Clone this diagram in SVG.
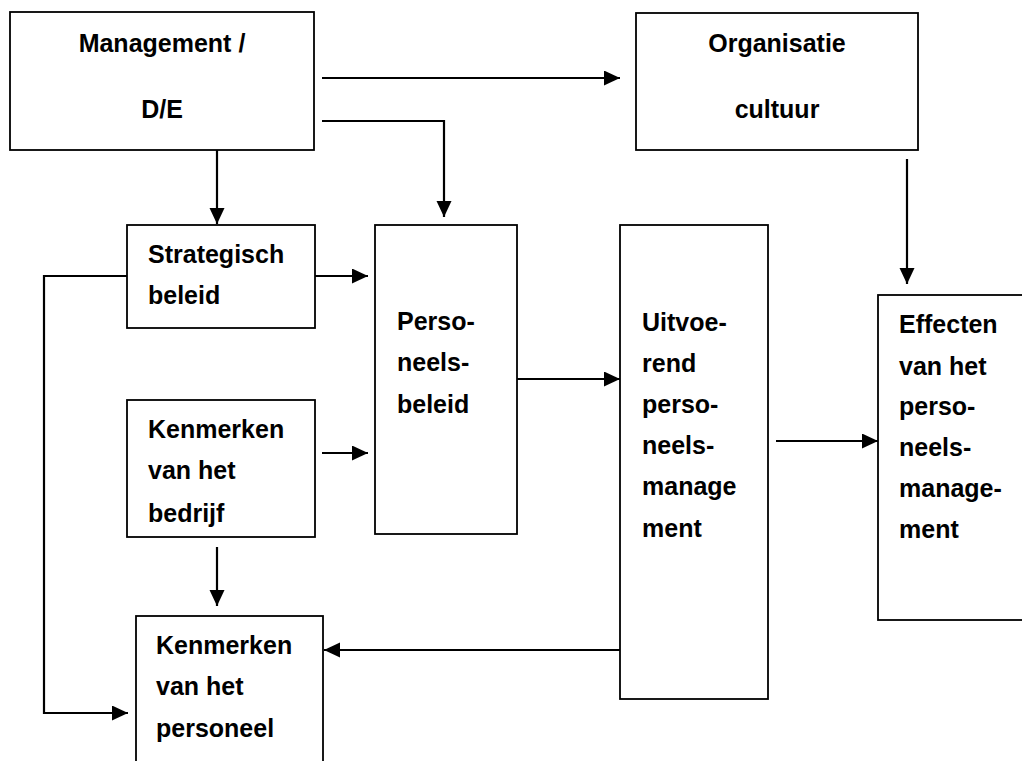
<svg xmlns="http://www.w3.org/2000/svg" width="1022" height="761" viewBox="0 0 1022 761">
<style>
.box{fill:#fff;stroke:#000;stroke-width:1.8}
.t{font-family:"Liberation Sans",Arial,sans-serif;font-weight:bold;font-size:25px;fill:#000}
.c{text-anchor:middle}
.con path{fill:none;stroke:#000;stroke-width:2.2}
.arr{marker-end:url(#ah)}
</style>
<defs>
<marker id="ah" markerUnits="userSpaceOnUse" markerWidth="18" markerHeight="16" refX="16" refY="7.5" orient="auto">
<path d="M0,0 L16,7.5 L0,15 z" fill="#000"/>
</marker>
</defs>
<rect width="1022" height="761" fill="#fff"/>
<g id="management">
<rect class="box" x="10" y="12" width="304" height="138"/>
<text class="t c" x="162" y="52">Management /</text>
<text class="t c" x="162" y="118">D/E</text>
</g>
<g id="organisatie">
<rect class="box" x="636" y="13" width="282" height="137"/>
<text class="t c" x="777" y="52">Organisatie</text>
<text class="t c" x="777" y="118">cultuur</text>
</g>
<g id="strategisch">
<rect class="box" x="127" y="225" width="188" height="103"/>
<text class="t" x="148" y="263">Strategisch</text>
<text class="t" x="148" y="304">beleid</text>
</g>
<g id="bedrijf">
<rect class="box" x="127" y="400" width="188" height="137"/>
<text class="t" x="148" y="438">Kenmerken</text>
<text class="t" x="148" y="479">van het</text>
<text class="t" x="148" y="522">bedrijf</text>
</g>
<g id="personeelsbeleid">
<rect class="box" x="375" y="225" width="142" height="309"/>
<text class="t" x="397" y="330">Perso-</text>
<text class="t" x="397" y="371">neels-</text>
<text class="t" x="397" y="413">beleid</text>
</g>
<g id="uitvoerend">
<rect class="box" x="620" y="225" width="148" height="474"/>
<text class="t" x="642" y="331">Uitvoe-</text>
<text class="t" x="642" y="372">rend</text>
<text class="t" x="642" y="413">perso-</text>
<text class="t" x="642" y="454">neels-</text>
<text class="t" x="642" y="495">manage</text>
<text class="t" x="642" y="537">ment</text>
</g>
<g id="effecten">
<rect class="box" x="878" y="295" width="150" height="325"/>
<text class="t" x="899" y="333">Effecten</text>
<text class="t" x="899" y="375">van het</text>
<text class="t" x="899" y="415">perso-</text>
<text class="t" x="899" y="456">neels-</text>
<text class="t" x="899" y="497">manage-</text>
<text class="t" x="899" y="538">ment</text>
</g>
<g id="personeel">
<rect class="box" x="136" y="616" width="187" height="160"/>
<text class="t" x="156" y="654">Kenmerken</text>
<text class="t" x="156" y="695">van het</text>
<text class="t" x="156" y="737">personeel</text>
</g>
<g id="connectors" class="con">
<path class="arr" d="M322,78 H620"/>
<path class="arr" d="M322,121 H444 V217"/>
<path class="arr" d="M217,150 V224"/>
<path class="arr" d="M907,159 V284"/>
<path class="arr" d="M315,276 H368"/>
<path class="arr" d="M322,453 H368"/>
<path class="arr" d="M127,276 H44 V713 H128"/>
<path class="arr" d="M217,547 V606"/>
<path class="arr" d="M517,379 H620"/>
<path class="arr" d="M776,441 H878"/>
<path class="arr" d="M620,650 H324"/>
</g>
</svg>
